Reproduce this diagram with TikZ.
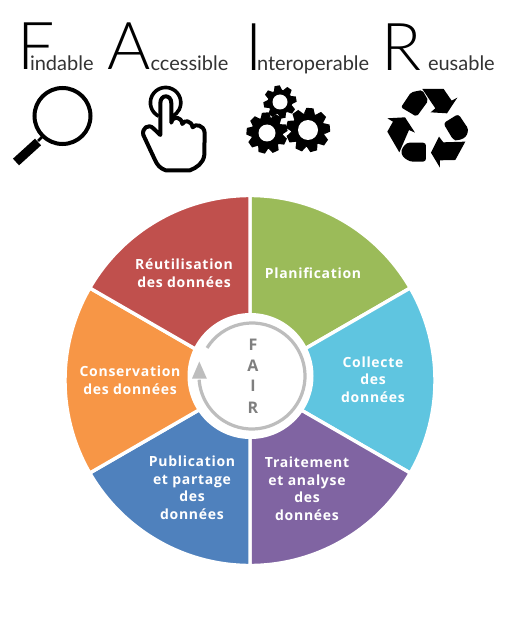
\documentclass[tikz,border=0pt]{standalone}
\usepackage{fontspec}
\setmainfont{Lato Light}
\newfontfamily\wordfont{Lato}
\newfontfamily\labelfont[LetterSpace=5]{Open Sans}
\definecolor{cred}{HTML}{C0504D}
\definecolor{cgreen}{HTML}{9BBB59}
\definecolor{ccyan}{HTML}{5FC5E0}
\definecolor{cpurple}{HTML}{8064A2}
\definecolor{cblue}{HTML}{4F81BD}
\definecolor{corange}{HTML}{F79646}
\definecolor{ring}{HTML}{BDBDBD}
\definecolor{fairgray}{HTML}{7F7F7F}
\tikzset{
  bigletter/.style={anchor=base west,inner sep=0pt,outer sep=0pt,font=\fontsize{66}{66}\selectfont,text=black},
  smallword/.style={anchor=base west,inner sep=0pt,outer sep=0pt,font=\wordfont\fontsize{20}{22}\selectfont,text=black!80},
  sectorlabel/.style={align=center,text=white,inner sep=0pt,font=\labelfont\bfseries\fontsize{14}{17.5}\selectfont},
  fairletter/.style={inner sep=0pt,text=fairgray,font=\labelfont\bfseries\fontsize{16}{16}\selectfont},
  sector/.style={draw=white,line width=3.4pt,line join=round}
}
% gear: centre x, y, outer radius, body radius, hole radius, teeth, start angle
\newcommand{\gearicon}[7]{%
  \begin{scope}[shift={(#1,#2)}]
    \fill[black] (0,0) circle ({#4});
    \pgfmathsetmacro{\gstep}{360/#6}
    \foreach \k in {1,...,#6}{
      \begin{scope}[rotate={#7+\k*\gstep}]
        \fill[black] ({#4-1},{-0.25*#3}) -- ({#3},{-0.16*#3}) -- ({#3},{0.16*#3}) -- ({#4-1},{0.25*#3}) -- cycle;
      \end{scope}
    }
    \fill[white] (0,0) circle ({#5});
  \end{scope}}
\begin{document}
\begin{tikzpicture}[x=1pt,y=-1pt]
\useasboundingbox (0,0) rectangle (530,631);
\fill[white] (0,0) rectangle (530,631);

% title words
\node[bigletter] (F) at (17.5,70) {F};
\node[smallword] (findable) at (30,71) {indable};
\node[bigletter] (A) at (107,70) {A};
\node[smallword] (accessible) at (150.5,71) {ccessible};
\node[bigletter] (I) at (245,71) {I};
\node[smallword] (interoperable) at (257,71) {nteroperable};
\node[bigletter] (R) at (381,71) {R};
\node[smallword] (reusable) at (428,71) {eusable};

% magnifier
\draw[black,line width=4pt] (62.5,116) circle (28);
\draw[black,line width=2.5pt] (43,136) -- (38,141);
\draw[black,line width=9pt] (38,142) -- (16,162);

% hand
\begin{scope}[shift={(165.7,102.7)},yscale=-1]
  \draw[black,line width=3.6pt] (-7,-13.5) arc[start angle=243,end angle=-63,radius=15.2];
\end{scope}
\begin{scope}[x=0.3333pt,y=-0.3333pt]
  \draw[black,line width=4pt,line join=round,fill=white]
    (481,405) -- (481,310) .. controls (481,282) and (514,282) .. (514,310)
    -- (514,368) .. controls (518,345) and (545,350) .. (547,372)
    .. controls (552,358) and (575,362) .. (578,382)
    .. controls (585,370) and (612,375) .. (614,398)
    -- (613,465) .. controls (610,490) and (590,503) .. (570,511)
    -- (497,511) .. controls (480,505) and (472,495) .. (465,480)
    -- (430,405) .. controls (425,385) and (445,370) .. (460,385) -- cycle;
\end{scope}

% gears
\gearicon{280}{102}{16.5}{12.5}{7.5}{8}{10}
\gearicon{308}{130}{22}{17}{10}{9}{5}
\gearicon{267}{133}{20.5}{16}{8.5}{9}{15}

% recycle symbol
\begin{scope}[shift={(265,0)},x=0.3333pt,y=-0.3333pt]
  \fill[black,rounded corners=2pt] (408,322) -- (438,277) -- (472,270) -- (490,302) -- (455,350) -- cycle;
  \fill[black] (472,267) -- (536,267) -- (560,302) -- (577,293) -- (546,340) -- (497,337) -- (511,325) -- cycle;
  \fill[black,rounded corners=3pt] (535,370) -- (580,342) -- (611,388) -- (603,412) -- (578,422) -- (565,420) -- cycle;
  \fill[black] (601,425) -- (571,480) -- (525,481) -- (525,503) -- (498,458) -- (522,410) -- (535,427) -- cycle;
  \fill[black,rounded corners=3pt] (483,428) -- (483,485) -- (435,485) -- (412,470) -- (408,450) -- (425,428) -- cycle;
  \fill[black] (367,355) -- (420,352) -- (450,398) -- (432,390) -- (403,457) -- (367,395) -- (384,365) -- cycle;
\end{scope}

% wheel
\begin{scope}[shift={(250,380.5)},yscale=-1]
  \filldraw[sector,fill=cgreen] (0,0) -- (90:185) arc[start angle=90,end angle=30,radius=185] -- cycle;
  \filldraw[sector,fill=ccyan] (0,0) -- (30:185) arc[start angle=30,end angle=-30,radius=185] -- cycle;
  \filldraw[sector,fill=cpurple] (0,0) -- (-30:185) arc[start angle=-30,end angle=-90,radius=185] -- cycle;
  \filldraw[sector,fill=cblue] (0,0) -- (-90:185) arc[start angle=-90,end angle=-150,radius=185] -- cycle;
  \filldraw[sector,fill=corange] (0,0) -- (-150:185) arc[start angle=-150,end angle=-210,radius=185] -- cycle;
  \filldraw[sector,fill=cred] (0,0) -- (150:185) arc[start angle=150,end angle=90,radius=185] -- cycle;
\end{scope}
\fill[white] (250.5,376) circle (63);
\begin{scope}[shift={(252,376)},yscale=-1]
  \draw[ring,line width=3.2pt] (148:53) arc[start angle=148,end angle=-176,radius=53];
\end{scope}
\fill[ring] (199.3,361.5) -- (206.8,378.5) -- (192,378.5) -- cycle;

% labels
\node[sectorlabel] (reutil) at (184,273) {Réutilisation\\des données};
\node[sectorlabel] (planif) at (313,273) {Planification};
\node[sectorlabel] (collecte) at (373,379.5) {Collecte\\des\\données};
\node[sectorlabel] (traitement) at (307,488.5) {Traitement\\et analyse\\des\\données};
\node[sectorlabel] (publication) at (192,487.5) {Publication\\et partage\\des\\données};
\node[sectorlabel] (conservation) at (130,380) {Conservation\\des données};

\node[fairletter] (lf) at (253,345) {F};
\node[fairletter] (la) at (253,366) {A};
\node[fairletter] (li) at (253,386) {I};
\node[fairletter] (lr) at (253,408) {R};
\end{tikzpicture}
\end{document}
